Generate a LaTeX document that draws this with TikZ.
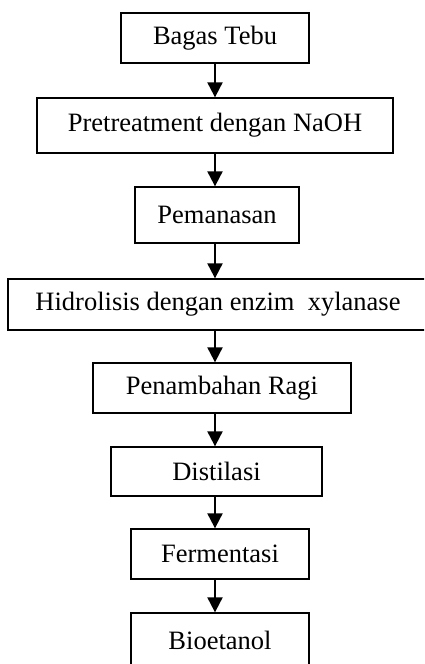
\documentclass[tikz,border=0pt]{standalone}
\usepackage{fontspec}
\setmainfont{Liberation Serif}
\usepackage{tikz}
\usetikzlibrary{arrows.meta}
\tikzset{box/.style={draw,line width=1.3pt,inner sep=0pt,font=\fontsize{26.5}{30}\selectfont},
 arr/.style={draw,line width=2pt,-{Triangle[length=15pt,width=15pt]}},
 }

\begin{document}
\begin{tikzpicture}[x=1pt,y=-1pt]
        \clip (0,0) rectangle (424,664);
        \coordinate (axis) at (215,0);
        \node[box,minimum width=188pt,minimum height=50pt] (bagas) at (215,38) {Bagas Tebu};
        \node[box,minimum width=356pt,minimum height=55pt] (pretreat) at (215,125.5) {Pretreatment dengan NaOH};
        \node[box,minimum width=164pt,minimum height=56pt] (panas) at (217,215) {Pemanasan};
        \node[box,minimum width=420pt,minimum height=51pt] (hidro) at (218,304.5) {Hidrolisis dengan enzim \ xylanase};
        \node[box,minimum width=258pt,minimum height=50pt] (ragi) at (222,388) {Penambahan Ragi};
        \node[box,minimum width=211pt,minimum height=49pt] (distil) at (216.5,471.5) {Distilasi};
        \node[box,minimum width=178pt,minimum height=50pt] (ferment) at (220,554) {Fermentasi};
        \node[box,minimum width=178pt,minimum height=54pt] (etanol) at (220,640) {Bioetanol};
        \draw[arr] (bagas.south -| axis) -- (pretreat.north -| axis);
        \draw[arr] (pretreat.south -| axis) -- (panas.north -| axis);
        \draw[arr] (panas.south -| axis) -- (hidro.north -| axis);
        \draw[arr] (hidro.south -| axis) -- (ragi.north -| axis);
        \draw[arr] (ragi.south -| axis) -- (distil.north -| axis);
        \draw[arr] (distil.south -| axis) -- (ferment.north -| axis);
        \draw[arr] (ferment.south -| axis) -- (etanol.north -| axis);
    \end{tikzpicture}
\end{document}
